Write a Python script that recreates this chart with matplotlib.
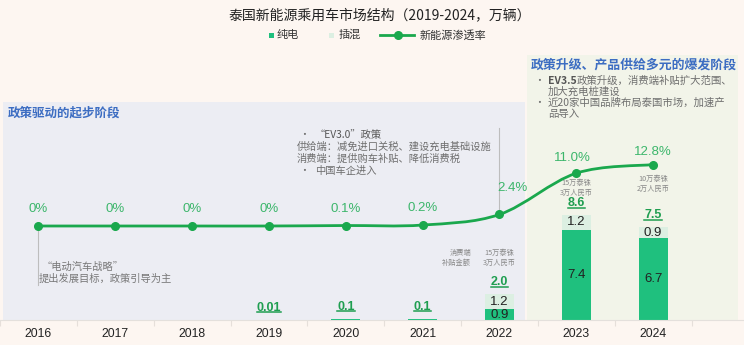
import matplotlib
matplotlib.use('Agg')
import matplotlib.pyplot as plt
import matplotlib.patches as patches
import matplotlib.transforms as mtransforms
from matplotlib.path import Path
from matplotlib.lines import Line2D

# data (万辆 / %)
years = ['2016', '2017', '2018', '2019', '2020', '2021', '2022', '2023', '2024']
bev = [0, 0, 0, 0.01, 0.1, 0.1, 0.9, 7.4, 6.7]
phev = [0, 0, 0, 0, 0, 0, 1.2, 1.2, 0.9]
bev_labels = ['', '', '', '', '', '', '0.9', '7.4', '6.7']
phev_labels = ['', '', '', '', '', '', '1.2', '1.2', '0.9']
total_labels = ['', '', '', '0.01', '0.1', '0.1', '2.0', '8.6', '7.5']
penetration = [0, 0, 0, 0, 0.1, 0.2, 2.4, 11.0, 12.8]
pen_labels = ['0%', '0%', '0%', '0%', '0.1%', '0.2%', '2.4%', '11.0%', '12.8%']

# label offsets in pixels for the penetration labels
pen_offsets = [(0, 17)] * 6 + [(13, 26), (-4, 15), (0, 13)]

CJK = ['Noto Sans CJK SC', 'DejaVu Sans']
NUM = ['Liberation Sans', 'DejaVu Sans']

BG = '#fdf6f1'
LEFT_BG = '#ecedf3'
RIGHT_BG = '#f2f4e9'
BEV_C = '#1fc07e'
PHEV_C = '#dcefe2'
LINE_C = '#1aa84d'
PCT_C = '#3cb66b'
TOT_C = '#1f9e50'
BLUE = '#3c6dc2'
GREY = '#6e6e6e'

W, H = 744, 345
fig = plt.figure(figsize=(W / 100, H / 100), dpi=100, facecolor=BG)


def fx(x):
    return x / W


def fy(y):
    return 1 - y / H


# background panels
fig.patches.append(patches.Rectangle((fx(3), fy(320)), fx(522), 218 / H, transform=fig.transFigure,
                                     facecolor=LEFT_BG, edgecolor='none', zorder=-2))
fig.patches.append(patches.Rectangle((fx(527), fy(320)), fx(211), 265 / H, transform=fig.transFigure,
                                     facecolor=RIGHT_BG, edgecolor='none', zorder=-2))

# main axes: baseline at y=320px, top at 50px
ax = fig.add_axes([0, fy(320), 1, 270 / H])
ax.set_facecolor('none')
ax.set_xlim(-36 / 77.1, (W - 36) / 77.1)
ax.set_ylim(0, 270 / 12.2)

x = list(range(len(years)))
ax.bar(x, bev, width=0.38, color=BEV_C, zorder=2)
ax.bar(x, phev, width=0.38, bottom=bev, color=PHEV_C, zorder=2)

for i in x:
    if bev_labels[i]:
        ax.text(i, bev[i] / 2, bev_labels[i], ha='center', va='center', fontsize=9.5,
                family=NUM, color='#222222', zorder=3)
    if phev_labels[i]:
        ax.text(i, bev[i] + phev[i] / 2, phev_labels[i], ha='center', va='center', fontsize=9.5,
                family=NUM, color='#222222', zorder=3)

tot_texts = []
for i in x:
    if total_labels[i]:
        t = ax.annotate(total_labels[i], xy=(i, bev[i] + phev[i]), xytext=(0, 9),
                        textcoords='offset pixels', ha='center', va='baseline', fontsize=9,
                        fontweight='bold', family=NUM, color=TOT_C, zorder=3)
        tot_texts.append(t)

ax.set_xticks(x)
ax.set_xticklabels(years, fontsize=8.8, family=NUM, color='#222222')
ax.set_xticks([i - 0.5 for i in range(len(years) + 1)], minor=True)
ax.tick_params(axis='x', which='major', length=0, pad=6)
ax.tick_params(axis='x', which='minor', length=4, color='#e6dfda', width=0.8)
ax.set_yticks([])
for s in ['top', 'right', 'left']:
    ax.spines[s].set_visible(False)
ax.spines['bottom'].set_color('#e4e0dc')

# penetration line on twin axis
ax2 = ax.twinx()
ax2.set_facecolor('none')
ax2.set_ylim(-94 / 4.8, 176 / 4.8)
ax2.set_yticks([])
for s in ax2.spines.values():
    s.set_visible(False)

# smooth curve (Catmull-Rom as cubic Bezier) through the data points
pts = list(zip(x, penetration))
verts = [pts[0]]
codes = [Path.MOVETO]
n = len(pts)
for i in range(n - 1):
    p0 = pts[max(i - 1, 0)]
    p1 = pts[i]
    p2 = pts[i + 1]
    p3 = pts[min(i + 2, n - 1)]
    c1 = (p1[0] + (p2[0] - p0[0]) / 6, p1[1] + (p2[1] - p0[1]) / 6)
    c2 = (p2[0] - (p3[0] - p1[0]) / 6, p2[1] - (p3[1] - p1[1]) / 6)
    verts += [c1, c2, p2]
    codes += [Path.CURVE4] * 3
ax2.add_patch(patches.PathPatch(Path(verts, codes), facecolor='none', edgecolor=LINE_C, lw=2, zorder=4))
ax2.plot(x, penetration, ls='none', marker='o', ms=5.5, color=LINE_C, zorder=5)

for i in x:
    ax2.annotate(pen_labels[i], xy=(i, penetration[i]), xytext=pen_offsets[i],
                 textcoords='offset pixels', ha='center', va='center', fontsize=9.5,
                 family=NUM, color=PCT_C, zorder=5)

# guide lines
blend = mtransforms.blended_transform_factory(ax.transData, ax.transAxes)


def ay(ypx):
    return (320 - ypx) / 270


ax.plot([0, 0], [ay(226), ay(285)], transform=blend, color='#bdbdbd', lw=0.8, zorder=1)
ax.plot([6, 6], [ay(214), ay(128)], transform=blend, color='#bdbdbd', lw=0.8, zorder=1)

# title and legend
fig.text(fx(380), fy(15), '泰国新能源乘用车市场结构（2019-2024，万辆）', ha='center', va='center',
         fontsize=10, family=CJK, color='#222222')
fig.patches.append(patches.Rectangle((fx(269), fy(37.5)), fx(5), 5 / H, transform=fig.transFigure,
                                     facecolor=BEV_C, edgecolor='none'))
fig.text(fx(277), fy(35), '纯电', ha='left', va='center', fontsize=8, family=CJK, color='#333333')
fig.patches.append(patches.Rectangle((fx(329), fy(37.5)), fx(5), 5 / H, transform=fig.transFigure,
                                     facecolor=PHEV_C, edgecolor='none'))
fig.text(fx(339), fy(35), '插混', ha='left', va='center', fontsize=8, family=CJK, color='#333333')
fig.lines.append(Line2D([fx(380), fx(414)], [fy(35), fy(35)], transform=fig.transFigure,
                        color=LINE_C, lw=2))
fig.lines.append(Line2D([fx(398)], [fy(35)], transform=fig.transFigure, marker='o', ms=5.5,
                        color=LINE_C, ls='none'))
fig.text(fx(420), fy(35), '新能源渗透率', ha='left', va='center', fontsize=8, family=CJK, color='#333333')

# left panel notes
fig.text(fx(8), fy(113), '政策驱动的起步阶段', ha='left', va='center', fontsize=9, fontweight='bold',
         family=CJK, color=BLUE)
fig.text(fx(299), fy(135), '•', ha='left', va='center', fontsize=7, family=CJK, color=GREY)
fig.text(fx(315), fy(135), '“EV3.0”政策', ha='left', va='center', fontsize=7.4, family=CJK,
         color='#555555')
fig.text(fx(297), fy(147), '供给端：减免进口关税、建设充电基础设施', ha='left', va='center', fontsize=7.4,
         family=CJK, color=GREY)
fig.text(fx(297), fy(159), '消费端：提供购车补贴、降低消费税', ha='left', va='center', fontsize=7.4,
         family=CJK, color=GREY)
fig.text(fx(299), fy(171), '•', ha='left', va='center', fontsize=7, family=CJK, color=GREY)
fig.text(fx(315), fy(171), '中国车企进入', ha='left', va='center', fontsize=7.4, family=CJK, color=GREY)

fig.text(fx(42), fy(267), '“电动汽车战略”', ha='left', va='center', fontsize=7.4, family=CJK,
         color='#777777')
fig.text(fx(39), fy(279), '提出发展目标，政策引导为主', ha='left', va='center', fontsize=7.4, family=CJK,
         color='#777777')

note_kw = dict(ha='center', va='center', fontsize=5.2, family=CJK, color='#888888', linespacing=1.2)
fig.text(fx(471), fy(258), '消费端\n补贴金额', **dict(note_kw, ha='right', multialignment='right'))
ax.text(6, ay(258), '15万泰铢\n3万人民币', transform=blend, **note_kw)
ax.text(7, ay(188), '15万泰铢\n3万人民币', transform=blend, **note_kw)
ax.text(8, ay(184), '10万泰铢\n2万人民币', transform=blend, **note_kw)

# right panel notes
fig.text(fx(531), fy(65), '政策升级、产品供给多元的爆发阶段', ha='left', va='center', fontsize=9.3,
         fontweight='bold', family=CJK, color=BLUE)
fig.text(fx(534), fy(81), '•', ha='left', va='center', fontsize=7, family=CJK, color=GREY)
t_ev = fig.text(fx(548), fy(81), 'EV3.5', ha='left', va='center', fontsize=7.5, fontweight='bold',
                family=CJK, color='#555555')
ax.annotate('政策升级，消费端补贴扩大范围、', xy=(1, 0.5), xycoords=t_ev, ha='left', va='center',
            fontsize=7.5, family=CJK, color=GREY, annotation_clip=False)
fig.text(fx(548), fy(92), '加大充电桩建设', ha='left', va='center', fontsize=7.5, family=CJK, color=GREY)
fig.text(fx(534), fy(103), '•', ha='left', va='center', fontsize=7, family=CJK, color=GREY)
fig.text(fx(548), fy(103), '近20家中国品牌布局泰国市场，加速产', ha='left', va='center', fontsize=7.5,
         family=CJK, color=GREY)
fig.text(fx(548), fy(114), '品导入', ha='left', va='center', fontsize=7.5, family=CJK, color=GREY)

# underline the totals
fig.canvas.draw()
inv = fig.transFigure.inverted()
for t in tot_texts:
    bb = t.get_window_extent()
    (x0, y0), (x1, _) = inv.transform([(bb.x0, bb.y0 + 1.5), (bb.x1, bb.y0)])
    fig.lines.append(Line2D([x0, x1], [y0, y0], transform=fig.transFigure, color=TOT_C, lw=1.1))

fig.savefig('out.png', dpi=100, facecolor=BG)
